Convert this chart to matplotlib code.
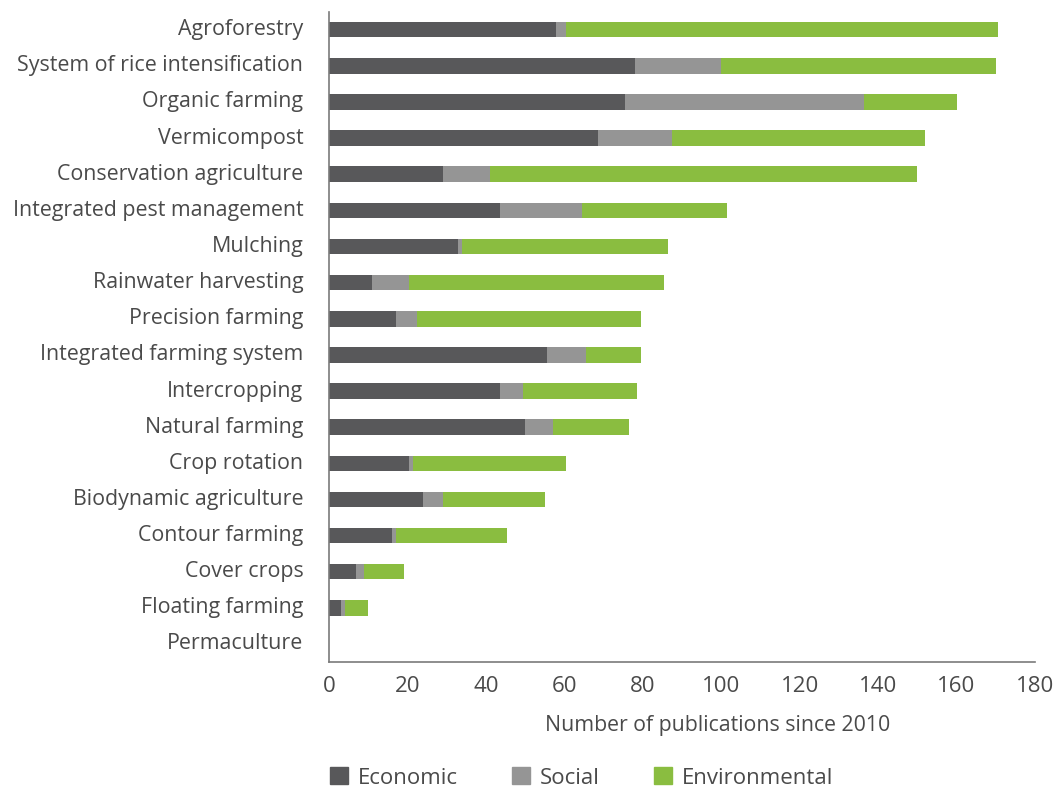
import matplotlib
matplotlib.use("Agg")
import matplotlib.pyplot as plt
from matplotlib.patches import Patch
import numpy as np

categories = ["Agroforestry", "System of rice intensification", "Organic farming",
              "Vermicompost", "Conservation agriculture", "Integrated pest management",
              "Mulching", "Rainwater harvesting", "Precision farming",
              "Integrated farming system", "Intercropping", "Natural farming",
              "Crop rotation", "Biodynamic agriculture", "Contour farming",
              "Cover crops", "Floating farming", "Permaculture"]
economic =      [58, 78, 75.5, 68.5, 29, 43.5, 33, 11, 17, 55.5, 43.5, 50, 20.5, 24, 16, 7, 3, 0]
social =        [2.5, 22, 61, 19, 12, 21, 1, 9.5, 5.5, 10, 6, 7, 1, 5, 1, 2, 1, 0]
environmental = [110, 70, 23.5, 64.5, 109, 37, 52.5, 65, 57, 14, 29, 19.5, 39, 26, 28.5, 10, 6, 0]
series_names = ["Economic", "Social", "Environmental"]
colors = ["#58585a", "#959595", "#8abd40"]
xticks = [0, 20, 40, 60, 80, 100, 120, 140, 160, 180]

plt.rcParams['font.family'] = ['Open Sans', 'DejaVu Sans']
text_color = "#4a4a4a"

fig = plt.figure(figsize=(10.53, 7.89), dpi=100)
ax = fig.add_axes([329/1053, 1-662/789, (1035-329)/1053, (662-12)/789])

n = len(categories)
y = np.arange(n)[::-1]
e = np.array(economic); s = np.array(social); v = np.array(environmental)
h = 0.43
ax.barh(y, e, height=h, color=colors[0], label=series_names[0])
ax.barh(y, s, left=e, height=h, color=colors[1], label=series_names[1])
ax.barh(y, v, left=e + s, height=h, color=colors[2], label=series_names[2])

ax.set_ylim(-0.5, n - 1 + 0.49)
ax.set_xlim(0, 180)
ax.set_xticks(xticks)
ax.set_xticklabels([str(t) for t in xticks])
ax.set_yticks(y)
ax.set_yticklabels(categories, va="center")
ax.tick_params(axis='both', length=0, labelcolor=text_color)
ax.tick_params(axis='y', pad=18.5, labelsize=15.4)
ax.tick_params(axis='x', pad=10, labelsize=16)
for sp in ["top", "right"]:
    ax.spines[sp].set_visible(False)
for sp in ["left", "bottom"]:
    ax.spines[sp].set_color("#7a7a7a")
    ax.spines[sp].set_linewidth(1.2)

fig.text(718/1053, 1-726/789, "Number of publications since 2010", ha="center", va="center",
         fontsize=15.3, color=text_color)

handles = [Patch(color=c, label=l) for c, l in zip(colors, series_names)]
fig.legend(handles=handles, loc="center left", bbox_to_anchor=(310/1053, 1-778/789),
           ncol=3, frameon=False, fontsize=16, handlelength=0.8, handleheight=0.8,
           columnspacing=2.45, handletextpad=0.45, labelcolor=text_color)

fig.savefig("out.png", dpi=100)
